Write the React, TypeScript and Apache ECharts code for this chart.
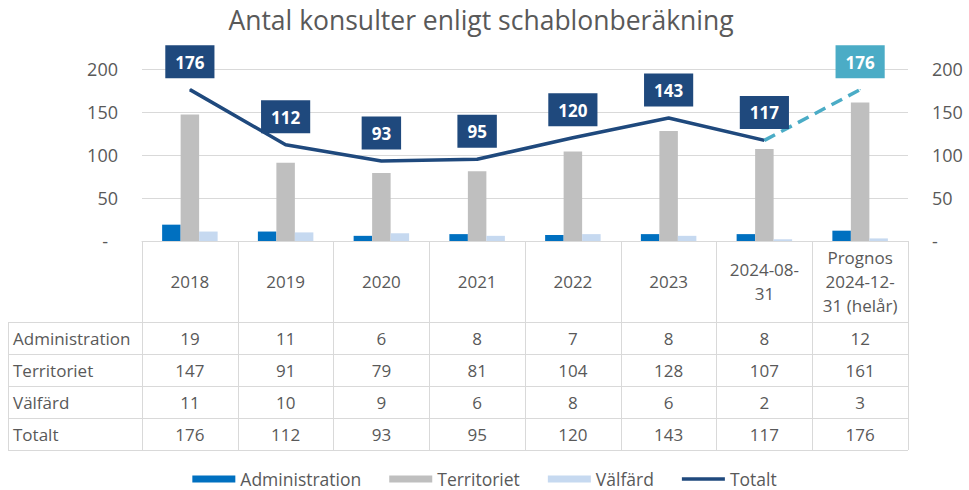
import React, { useEffect, useRef } from 'react';
import * as echarts from 'echarts';

const categories = ['2018', '2019', '2020', '2021', '2022', '2023', '2024-08-\n31', 'Prognos\n2024-12-\n31 (helår)'];
const administration = [19, 11, 6, 8, 7, 8, 8, 12];
const territoriet = [147, 91, 79, 81, 104, 128, 107, 161];
const valfard = [11, 10, 9, 6, 8, 6, 2, 3];
const totalt = [176, 112, 93, 95, 120, 143, 117, 176];
const lastActualIndex = 6;
const yMin = 0;
const yMax = 200;
const yInterval = 50;
const seriesNames = ['Administration', 'Territoriet', 'Välfärd', 'Totalt'];
const titleText = 'Antal konsulter enligt schablonberäkning';

const FONT = '"Open Sans", Lato, sans-serif';
const TEXT = '#595959';
const BORDER = '#D9D9D9';
const C_ADM = '#0070C0';
const C_TER = '#BFBFBF';
const C_VAL = '#C6D9F0';
const C_TOT = '#1F497D';
const C_FC = '#4BACC6';

export default function App() {
  const ref = useRef<HTMLDivElement>(null);

  useEffect(() => {
    const el = ref.current;
    if (!el) return;
    const chart = echarts.init(el, null, { renderer: 'svg' });

    const H = 490;
    const gridLeft = 142;
    const gridRight = 61;
    const gridTop = 69;
    const gridBottom = 249;
    const plotBottom = H - gridBottom;
    const headerH = 81;
    const rowH = 32;
    const tableLeft = 8;
    const tableFont = 17;
    const legendFont = 17.5;

    const rows: [string, number[]][] = [
      [seriesNames[0], administration],
      [seriesNames[1], territoriet],
      [seriesNames[2], valfard],
      [seriesNames[3], totalt],
    ];
    const tableBottom = plotBottom + headerH + rowH * rows.length;

    const actual = totalt.map((v, i) => (i <= lastActualIndex ? v : null));
    const forecast = totalt.map((v, i) =>
      i < lastActualIndex ? null : i === totalt.length - 1 ? { value: v, label: { show: true } } : v
    );

    const labelBox = (bg: string) => ({
      position: 'top',
      distance: 11,
      color: '#ffffff',
      fontWeight: 'bold',
      fontSize: 17,
      fontFamily: FONT,
      backgroundColor: bg,
      padding: [7, 10, 6, 10],
      lineHeight: 20,
    });

    chart.setOption({
      animation: false,
      backgroundColor: '#ffffff',
      title: {
        text: titleText,
        left: 476,
        textAlign: 'center',
        top: 1,
        textStyle: { fontSize: 26.5, fontWeight: 'normal', color: TEXT, fontFamily: FONT },
      },
      legend: {
        top: 465,
        left: 'center',
        itemWidth: 43,
        itemHeight: 7,
        itemGap: 28,
        icon: 'rect',
        textStyle: { color: TEXT, fontSize: legendFont, fontFamily: FONT },
        data: [
          { name: seriesNames[0] },
          { name: seriesNames[1] },
          { name: seriesNames[2] },
          { name: seriesNames[3], icon: 'path://M0,0 L49,0 L49,4 L0,4 Z' },
        ],
      },
      grid: { left: gridLeft, right: gridRight, top: gridTop, bottom: gridBottom },
      xAxis: {
        type: 'category',
        data: categories,
        axisLine: { show: true, lineStyle: { color: BORDER, width: 1 } },
        axisTick: { show: true, interval: 0, length: tableBottom - plotBottom, lineStyle: { color: BORDER } },
        axisLabel: {
          interval: 0,
          margin: 40,
          verticalAlign: 'middle',
          lineHeight: 24,
          color: TEXT,
          fontSize: tableFont,
          fontFamily: FONT,
        },
      },
      yAxis: [
        {
          type: 'value',
          min: yMin,
          max: yMax,
          interval: yInterval,
          axisLine: { show: false },
          axisTick: { show: false },
          splitLine: { lineStyle: { color: BORDER, width: 1 } },
          axisLabel: {
            margin: 24,
            color: TEXT,
            fontSize: 18,
            fontFamily: FONT,
            formatter: (v: number) => (v === 0 ? '{z|-}' : String(v)),
            rich: { z: { padding: [0, 10, 0, 0], color: TEXT, fontSize: 18, fontFamily: FONT } },
          },
        },
        {
          type: 'value',
          min: yMin,
          max: yMax,
          interval: yInterval,
          position: 'right',
          axisLine: { show: false },
          axisTick: { show: false },
          splitLine: { show: false },
          axisLabel: {
            margin: 24,
            color: TEXT,
            fontSize: 18,
            fontFamily: FONT,
            formatter: (v: number) => (v === 0 ? '-' : String(v)),
          },
        },
      ],
      series: [
        { name: seriesNames[0], type: 'bar', data: administration, barWidth: 18.5, barGap: '0%', itemStyle: { color: C_ADM } },
        { name: seriesNames[1], type: 'bar', data: territoriet, barWidth: 18.5, barGap: '0%', itemStyle: { color: C_TER } },
        { name: seriesNames[2], type: 'bar', data: valfard, barWidth: 18.5, barGap: '0%', itemStyle: { color: C_VAL } },
        {
          name: seriesNames[3],
          type: 'line',
          data: actual,
          symbol: 'circle',
          symbolSize: 1,
          showSymbol: true,
          lineStyle: { color: C_TOT, width: 3.5 },
          itemStyle: { color: C_TOT },
          label: { show: true, ...labelBox(C_TOT) },
          z: 5,
        },
        {
          name: 'Prognos',
          type: 'line',
          data: forecast,
          symbol: 'circle',
          symbolSize: 1,
          showSymbol: true,
          lineStyle: { color: C_FC, width: 3.5, type: [12, 7] },
          itemStyle: { color: C_FC },
          label: { show: false, ...labelBox(C_FC) },
          z: 5,
        },
      ],
    });

    const gridRightX = (el.clientWidth || 969) - gridRight;
    const graphics: any[] = [];
    const line = (x1: number, y1: number, x2: number, y2: number) => ({
      type: 'line',
      silent: true,
      shape: { x1, y1, x2, y2 },
      style: { stroke: BORDER, lineWidth: 1 },
    });
    const headerBottom = plotBottom + headerH;
    for (let r = 0; r <= rows.length; r++) {
      const y = headerBottom + r * rowH + 0.5;
      graphics.push(line(tableLeft, y, gridRightX, y));
    }
    graphics.push(line(tableLeft + 0.5, headerBottom, tableLeft + 0.5, tableBottom));
    rows.forEach(([name, values], r) => {
      const cy = headerBottom + r * rowH + rowH / 2;
      graphics.push({
        type: 'text',
        silent: true,
        x: tableLeft + 5,
        y: cy,
        style: { text: name, fill: TEXT, font: `${tableFont}px ${FONT}`, textAlign: 'left', textVerticalAlign: 'middle' },
      });
      values.forEach((v, i) => {
        const cx = chart.convertToPixel({ xAxisIndex: 0 }, i) as number;
        graphics.push({
          type: 'text',
          silent: true,
          x: cx,
          y: cy,
          style: { text: String(v), fill: TEXT, font: `${tableFont}px ${FONT}`, textAlign: 'center', textVerticalAlign: 'middle' },
        });
      });
    });
    chart.setOption({ graphic: graphics });

    return () => chart.dispose();
  }, []);

  return (
    <div
      ref={ref}
      style={{ position: 'fixed', left: 0, top: 0, width: 969, height: 490, background: '#ffffff' }}
    />
  );
}
